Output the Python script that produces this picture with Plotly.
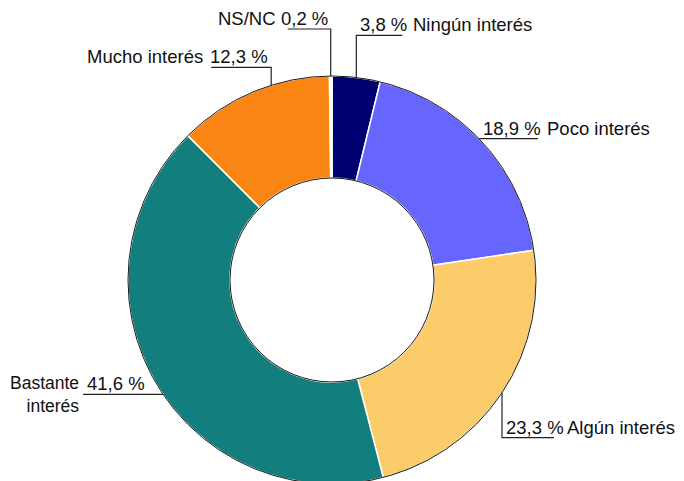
import numpy as np
import plotly.graph_objects as go

# Datos
categorias = ["Ningún interés", "Poco interés", "Algún interés",
              "Bastante interés", "Mucho interés", "NS/NC"]
valores = [3.8, 18.9, 23.3, 41.6, 12.3, 0.2]
colores = ["#000070", "#6666FF", "#FCCB6A", "#127F7E", "#FA8512", "#FFFFFF"]

# Estilo de las etiquetas:
# (ajuste de ángulo, tramo vertical, tramo horizontal, hueco hasta el nombre, modo)
estilo = [
    (0.0, -42, 46, 9, "der"),
    (-1.5, 0, 59, 7, "der"),
    (0.0, 45, 52, 11, "der"),
    (-4.3, 0, -80, 2, "partida"),
    (5.5, -18, -60, 6, "izq"),
    (0.0, -47, -43, 10, "izq"),
]

W, H = 684, 481
OFF = 8  # margen del <body> de la página
cx, cy, r = 332, 280, 204  # en coordenadas de la ventana
fuente = dict(family="Liberation Sans, Arial, sans-serif", size=18.5, color="#111111")

fig = go.Figure()
fig.add_trace(go.Pie(
    labels=categorias, values=valores, hole=0.5, sort=False,
    direction="clockwise", rotation=0, textinfo="none",
    marker=dict(colors=colores, line=dict(color="white", width=1.5)),
    domain=dict(x=[(cx - OFF - r) / W, (cx - OFF + r) / W],
                y=[1 - (cy - OFF + r) / H, 1 - (cy - OFF - r) / H]),
    showlegend=False,
))

# Contornos exterior e interior
for rr in (r, r * 0.5):
    fig.add_shape(type="circle", xref="x", yref="y", x0=cx - rr, x1=cx + rr,
                  y0=cy - rr, y1=cy + rr, line=dict(color="#1a1a1a", width=1))

total = sum(valores)
acum = np.cumsum([0] + valores[:-1])
for cat, v, a0, (ajuste, dy, dx, hueco, modo) in zip(categorias, valores, acum, estilo):
    ang = np.radians((a0 + v / 2) / total * 360 + ajuste)
    ax, ay = cx + r * np.sin(ang), cy - r * np.cos(ang)
    ex, ey = ax, ay + dy
    fx = ex + dx
    fig.add_shape(type="path", xref="x", yref="y",
                  path=f"M {ax:.1f} {ay:.1f} L {ex:.1f} {ey:.1f} L {fx:.1f} {ey:.1f}",
                  line=dict(color="#222222", width=1.2))
    txt = f"{v:.1f}".replace(".", ",") + " %"
    comun = dict(showarrow=False, font=fuente)
    if modo == "der":
        fig.add_annotation(x=ex + 2, y=ey, text=txt, xanchor="left",
                           yanchor="bottom", yshift=-2, **comun)
        fig.add_annotation(x=fx + hueco, y=ey, text=cat, xanchor="left",
                           yanchor="bottom", yshift=-2, **comun)
    elif modo == "izq":
        fig.add_annotation(x=ex - 1, y=ey, text=txt, xanchor="right",
                           yanchor="bottom", yshift=-2, **comun)
        fig.add_annotation(x=fx - hueco, y=ey, text=cat, xanchor="right",
                           yanchor="bottom", yshift=-2, **comun)
    else:
        fig.add_annotation(x=fx + 2, y=ey, text=txt, xanchor="left",
                           yanchor="bottom", yshift=-2, **comun)
        fig.add_annotation(x=fx - hueco, y=ey, text=cat.replace(" ", "<br>"),
                           xanchor="right", yanchor="middle", align="right",
                           showarrow=False, font=dict(fuente, size=17.5))

fig.update_layout(
    width=W, height=H,
    margin=dict(l=0, r=0, t=0, b=0),
    paper_bgcolor="white", plot_bgcolor="white",
    xaxis=dict(range=[OFF, W + OFF], visible=False, fixedrange=True),
    yaxis=dict(range=[H + OFF, OFF], visible=False, fixedrange=True),
)

fig.write_html("out.html")
